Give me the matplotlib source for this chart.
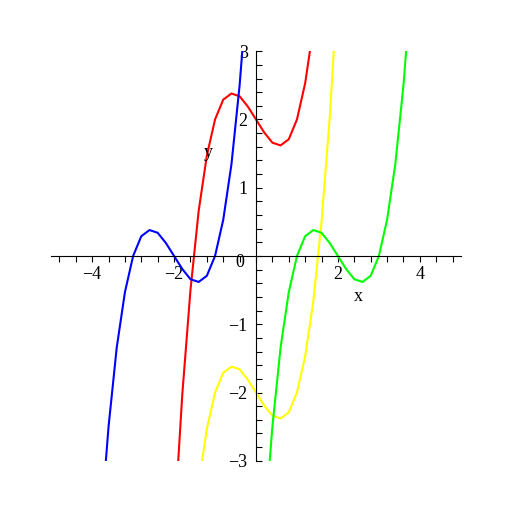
import numpy as np
import matplotlib.pyplot as plt

# points (Maple-style plot)
blue_x = [-3.8, -3.6, -3.4, -3.2, -3.0, -2.8, -2.6, -2.4, -2.2, -2.0, -1.8, -1.6, -1.4, -1.2, -1.0, -0.8, -0.6, -0.4, -0.2]
blue_y = [-4.03, -2.50, -1.34, -0.53, 0.0, 0.29, 0.38, 0.34, 0.19, 0.0, -0.19, -0.34, -0.38, -0.29, 0.0, 0.53, 1.34, 2.50, 4.03]

red_x = [-2.0, -1.8, -1.6, -1.4, -1.2, -1.0, -0.8, -0.6, -0.4, -0.2, 0.0, 0.2, 0.4, 0.6, 0.8, 1.0, 1.2, 1.4, 1.6]
red_y = [-4.0, -2.03, -0.50, 0.66, 1.47, 2.0, 2.29, 2.38, 2.34, 2.19, 2.0, 1.81, 1.66, 1.62, 1.71, 2.0, 2.53, 3.34, 4.50]

yellow_x = [-1.6, -1.4, -1.2, -1.0, -0.8, -0.6, -0.4, -0.2, 0.0, 0.2, 0.4, 0.6, 0.8, 1.0, 1.2, 1.4, 1.6, 1.8, 2.0]
yellow_y = [-4.50, -3.34, -2.53, -2.0, -1.71, -1.62, -1.66, -1.81, -2.0, -2.19, -2.34, -2.38, -2.29, -2.0, -1.47, -0.66, 0.50, 2.03, 4.0]

green_x = [0.2, 0.4, 0.6, 0.8, 1.0, 1.2, 1.4, 1.6, 1.8, 2.0, 2.2, 2.4, 2.6, 2.8, 3.0, 3.2, 3.4, 3.6, 3.8]
green_y = [-4.03, -2.50, -1.34, -0.53, 0.0, 0.29, 0.38, 0.34, 0.19, 0.0, -0.19, -0.34, -0.38, -0.29, 0.0, 0.53, 1.34, 2.50, 4.03]

xtick_vals = [-4, -2, 2, 4]
ytick_vals = [-3, -2, -1, 1, 2, 3]

serif = 'Liberation Serif'

fig = plt.figure(figsize=(5.12, 5.12), dpi=100)
ax = fig.add_axes([0.1, 0.1, 0.8, 0.8])

ax.plot(red_x, red_y, color='#ff0000', lw=1.5)
ax.plot(blue_x, blue_y, color='#0000ff', lw=1.5)
ax.plot(yellow_x, yellow_y, color='#ffff00', lw=1.5)
ax.plot(green_x, green_y, color='#00ff00', lw=1.5)

ax.set_xlim(-5, 5)
ax.set_ylim(-3, 3)

for s in ['top', 'right']:
    ax.spines[s].set_visible(False)
ax.spines['left'].set_position('zero')
ax.spines['bottom'].set_position('zero')
ax.spines['left'].set_linewidth(0.8)
ax.spines['bottom'].set_linewidth(0.8)

ax.set_xticks(xtick_vals)
ax.set_xticklabels([str(v).replace('-', '\u2212') for v in xtick_vals], fontfamily=serif, fontsize=13)
ax.set_xticks(np.arange(-4.8, 4.81, 0.4), minor=True)
ax.set_yticks(ytick_vals)
ax.set_yticklabels([str(v).replace('-', '\u2212') for v in ytick_vals], fontfamily=serif, fontsize=13)
ax.set_yticks(np.arange(-3.0, 3.01, 0.2), minor=True)

ax.tick_params(axis='x', which='both', direction='out', length=4, width=0.8, pad=3)
ax.tick_params(axis='y', which='both', direction='in', length=4, width=0.8, pad=6)

ax.text(-0.39, -0.1, '0', fontfamily=serif, fontsize=13, ha='center', va='center')
ax.text(2.49, -0.59, 'x', fontfamily=serif, fontsize=13, ha='center', va='center')
ax.text(-1.17, 1.51, 'y', fontfamily=serif, fontsize=13, ha='center', va='center')

fig.savefig('out.png', dpi=100)
